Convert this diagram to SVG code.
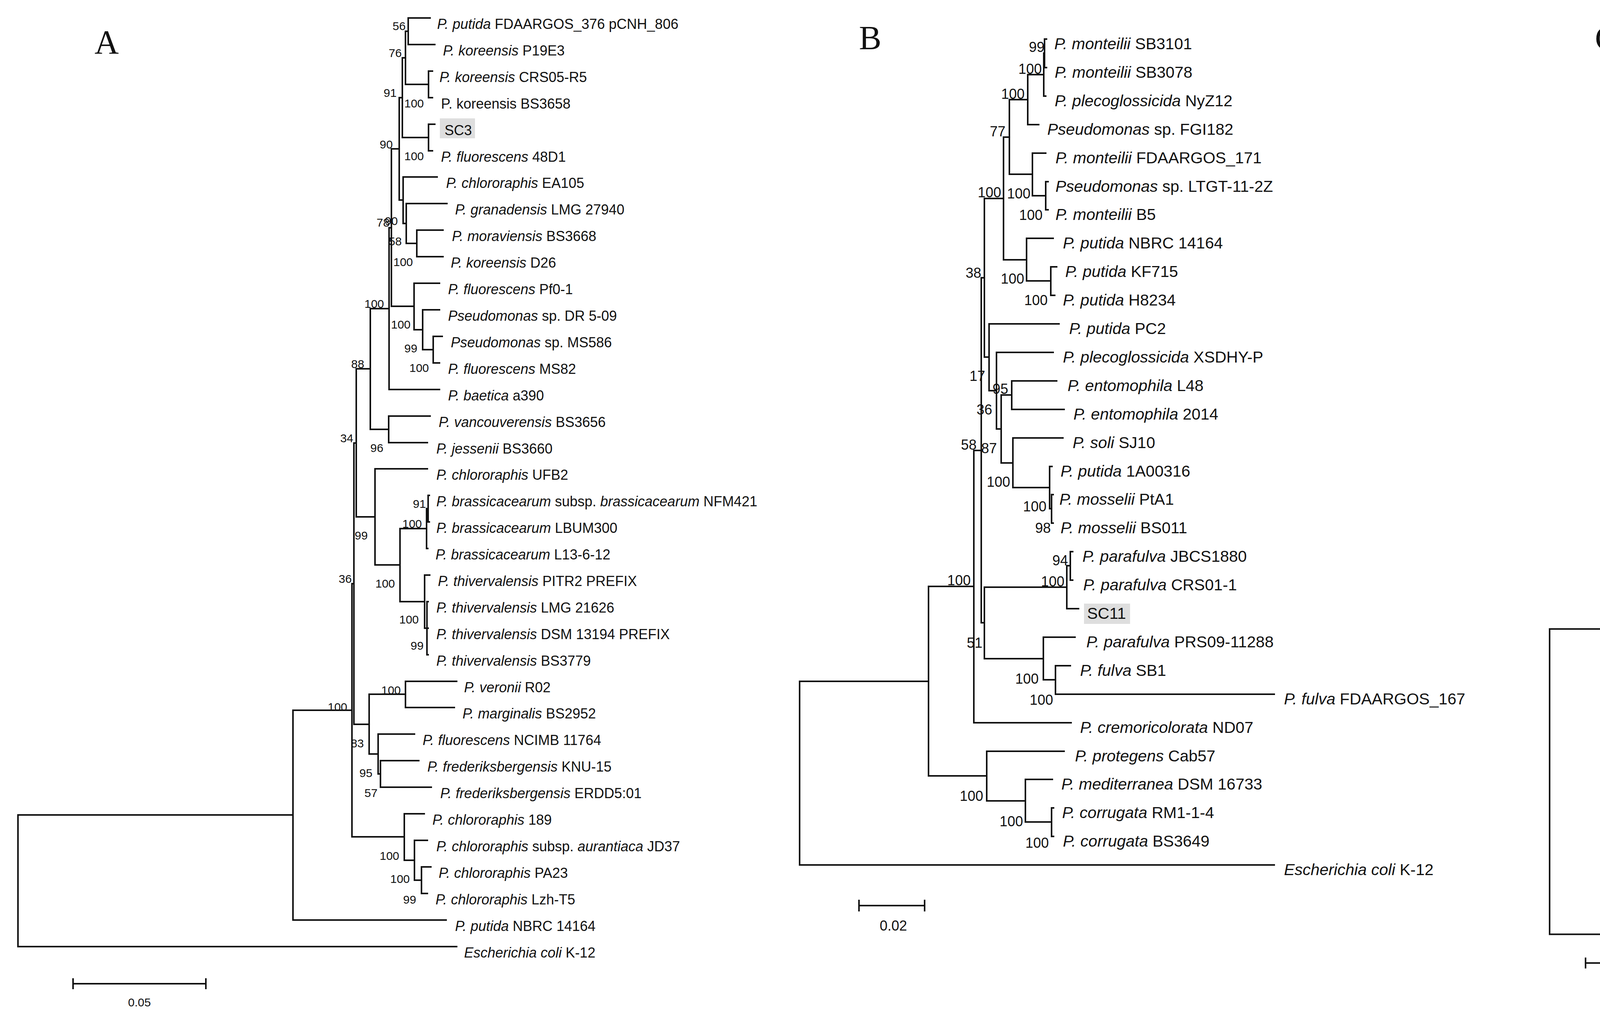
<svg xmlns="http://www.w3.org/2000/svg" width="5547" height="2616" viewBox="0 0 5547 2616">
<style>
.ln{fill:none;stroke:#111;stroke-width:4;stroke-linecap:square}
text{font-family:"Liberation Sans",Arial,sans-serif;fill:#111}
.i{font-style:italic}
.la{font-size:36px}
.lb{font-size:41px}
.lc{font-size:41px}
.ba{font-size:30px}
.bb{font-size:36px}
.bc{font-size:35px}
.pl{font-family:"Liberation Serif","Times New Roman",serif;font-size:86px}
.hl{fill:#dedede}
</style>
<rect width="5547" height="2616" fill="#fff"/>
<g id="connectors">
<path class="ln" d="M1045 46H1101M1045 114H1113M1097 182H1107M1097 250H1107M1097 318H1113M1097 386H1107M1032 453H1119M1040 521H1144M1067 589H1134M1067 657H1134M1060 725H1125M1082 793H1125M1109 861H1132M1109 929H1125M996 997H1125M995 1065H1101M995 1133H1094M960 1200H1094M1096 1268H1099M1096 1336H1099M1092 1404H1095M1087 1472H1100M1093 1540H1096M1093 1608H1096M1093 1676H1096M1038 1744H1169M1038 1811H1163M968 1879H1061M974 1947H1072M974 2015H1104M1035 2083H1086M1061 2151H1094M1079 2219H1103M1079 2287H1094M750 2355H1142M46 2423H1169
M1045 46V114M1097 182V250M1038 80V216M1038 80H1045M1038 216H1097M1097 318V386M1030 148V352M1030 148H1038M1030 352H1097M1067 589V657M1040 521V623M1040 623H1067M1032 453V572M1032 572H1040M1022 250V512M1022 250H1030M1022 512H1032M1109 861V929M1082 793V895M1082 895H1109M1060 725V844M1060 844H1082M1002 381V784M1002 381H1022M1002 784H1060M996 583V997M996 583H1002M995 1065V1133M948 790V1099M948 790H996M948 1099H995M1096 1268V1336M1092 1302V1404M1092 1302H1096M1093 1540V1676M1087 1472V1608M1087 1608H1093M1024 1353V1540M1024 1353H1092M1024 1540H1087M960 1200V1446M960 1446H1024M912 944V1323M912 944H948M912 1323H960M1038 1744V1811M974 1947V2015M968 1879V1981M968 1981H974M945 1777V1930M945 1777H1038M945 1930H968M906 1134V1854M906 1134H912M906 1854H945M1079 2219V2287M1061 2151V2253M1061 2253H1079M1035 2083V2202M1035 2202H1061M901 1494V2142M901 1494H906M901 2142H1035M750 1818V2355M750 1818H901M46 2086V2423M46 2086H750"/>
<path class="ln" d="M187 2518H527M187 2506V2530M527 2506V2530"/>
<path class="ln" d="M2674 100H2679M2674 173H2679M2672 246H2677M2631 319H2659M2643 392H2677M2677 465H2683M2677 537H2683M2628 610H2696M2690 683H2705M2690 756H2700M2532 829H2711M2551 902H2696M2590 975H2705M2590 1048H2724M2593 1121H2721M2687 1194H2693M2692 1266H2696M2692 1339H2696M2740 1412H2746M2740 1485H2746M2731 1558H2761M2671 1631H2752M2702 1704H2740M2702 1777H3262M2493 1850H2742M2526 1923H2724M2625 1995H2694M2692 2068H2697M2692 2141H2697M2047 2214H3262
M2674 100V173M2672 136V246M2672 136H2674M2631 191V319M2631 191H2672M2677 465V537M2643 392V501M2643 501H2677M2584 255V446M2584 255H2631M2584 446H2643M2690 683V756M2628 610V719M2628 719H2690M2569 351V665M2569 351H2584M2569 665H2628M2590 975V1048M2692 1266V1339M2687 1194V1302M2687 1302H2692M2593 1121V1248M2593 1248H2687M2563 1011V1185M2563 1011H2590M2563 1185H2593M2551 902V1098M2551 1098H2563M2532 829V1000M2532 1000H2551M2520 508V914M2520 508H2569M2520 914H2532M2740 1412V1485M2731 1448V1558M2731 1448H2740M2702 1704V1777M2671 1631V1740M2671 1740H2702M2520 1503V1686M2520 1503H2731M2520 1686H2671M2512 711V1594M2512 711H2520M2512 1594H2520M2493 1153V1850M2493 1153H2512M2692 2068V2141M2625 1995V2104M2625 2104H2692M2526 1923V2050M2526 2050H2625M2377 1501V1986M2377 1501H2493M2377 1986H2526M2047 1744V2214M2047 1744H2377"/>
<path class="ln" d="M2199 2318H2367M2199 2305V2331M2367 2305V2331"/>
<path class="ln" d="M4558 116V171.5M4558 116H4563M4558 171.5H4563M4561 227V282.5M4561 227H4567M4561 282.5H4572M4555 143.75V254.75M4555 143.75H4558M4555 254.75H4561M4568 393.5V449M4568 393.5H4572M4568 449H4572M4556 338V421M4556 338H4563M4556 421H4568M4551 199V379.6M4551 199H4555M4551 379.6H4556M4557 504.5V560M4557 504.5H4561M4557 560H4561M4559 615.5V671M4559 615.5H4561M4559 671H4561M4553 532V643M4553 532H4557M4553 643H4559M4542 289.4V587.7M4542 289.4H4551M4542 587.7H4553M4536 438.6V726.5M4536 438.6H4542M4536 726.5H4561M4549 837.5V948.5M4549 837.5H4561M4549 893H4559M4549 948.5H4558M4546 782V893M4546 782H4578M4546 893H4549M4532 582.5V837.5M4532 582.5H4536M4532 837.5H4546
M4553 1115V1170.5M4553 1115H4567M4553 1170.5H4567M4544 1059.5V1142.75M4544 1059.5H4575M4544 1142.75H4553M4512 1004V1101M4512 1004H4578M4512 1101H4544M4511 710V1052.6M4511 710H4532M4451 881.3V1226M4451 881.3H4511M4451 1226H4579M4581 1281.5V1337M4581 1281.5H4621M4581 1337H4610M4458 1309V1392.5M4458 1309H4581M4458 1392.5H4626M4640 1503.5V1559M4640 1503.5H4643M4640 1559H4643M4584 1670V1725.5M4584 1670H4634M4584 1725.5H4628M4570 1614.5V1697.75M4570 1614.5H4642M4570 1697.75H4584M4561 1531V1656M4561 1531H4640M4561 1656H4570M4553 1448V1593.7M4553 1448H4645M4553 1593.7H4561M4420 1350.9V1520.85M4420 1350.9H4458M4420 1520.85H4553M4367 1053.6V1435.9M4367 1053.6H4451M4367 1435.9H4420
M4499 1781V1836.5M4499 1781H4629M4499 1836.5H4659M4629 1892V1947.5M4629 1892H4631M4629 1947.5H4631M4486 1808.75V1919.75M4486 1808.75H4499M4486 1919.75H4629M4660 2058.5V2114M4660 2058.5H4722M4660 2114H4722M4649 2169.5V2225M4649 2169.5H4753M4649 2225H4767M4640 2280.5V2336M4640 2280.5H4732M4640 2336H4738M4624 2197.25V2308.25M4624 2197.25H4649M4624 2308.25H4640M4613 2086.25V2252.75M4613 2086.25H4660M4613 2252.75H4624M4429 2003V2169.5M4429 2003H4897M4429 2169.5H4613M4351 1864.25V2086.25M4351 1864.25H4486M4351 2086.25H4429M4313 1244.75V1975.25M4313 1244.75H4367M4313 1975.25H4351M3967 1610V2391.5M3967 1610H4313M3967 2391.5H4897"/>
<path class="ln" d="M4059 2465H4236M4059 2453V2477M4236 2453V2477"/>
</g>
<g id="panel-letters">
<text class="pl" x="242" y="137">A</text>
<text class="pl" x="2199" y="126">B</text>
<text class="pl" x="4083" y="127">C</text>
</g>
<g id="scale-bars">
<text class="ba" x="357" y="2576" text-anchor="middle">0.05</text>
<text class="bb" x="2287" y="2382" text-anchor="middle">0.02</text>
<text class="bc" x="4164" y="2528" text-anchor="middle" style="font-size:38px">0.05</text>
</g>
<g id="highlights">
<rect class="hl" x="1126" y="303" width="90" height="51"/>
<rect class="hl" x="2775" y="1545" width="118" height="52"/>
<rect class="hl" x="4580" y="750" width="96" height="49"/>
</g>
<g id="A-leaves">
<g id="A1"><text class="la" x="1119" y="74"><tspan class="i">P. putida</tspan> FDAARGOS_376 pCNH_806</text></g>
<g id="A2"><text class="la" x="1134" y="142"><tspan class="i">P. koreensis</tspan> P19E3</text></g>
<g id="A3"><text class="la" x="1125" y="210"><tspan class="i">P. koreensis</tspan> CRS05-R5</text></g>
<g id="A4"><text class="la" x="1129" y="278">P. koreensis BS3658</text></g>
<g id="A5"><text class="la" x="1138" y="346">SC3</text></g>
<g id="A6"><text class="la" x="1129" y="414"><tspan class="i">P. fluorescens</tspan> 48D1</text></g>
<g id="A7"><text class="la" x="1142" y="481"><tspan class="i">P. chlororaphis</tspan> EA105</text></g>
<g id="A8"><text class="la" x="1165" y="549"><tspan class="i">P. granadensis</tspan> LMG 27940</text></g>
<g id="A9"><text class="la" x="1157" y="617"><tspan class="i">P. moraviensis</tspan> BS3668</text></g>
<g id="A10"><text class="la" x="1154" y="685"><tspan class="i">P. koreensis</tspan> D26</text></g>
<g id="A11"><text class="la" x="1147" y="753"><tspan class="i">P. fluorescens</tspan> Pf0-1</text></g>
<g id="A12"><text class="la" x="1147" y="821"><tspan class="i">Pseudomonas</tspan> sp. DR 5-09</text></g>
<g id="A13"><text class="la" x="1154" y="889"><tspan class="i">Pseudomonas</tspan> sp. MS586</text></g>
<g id="A14"><text class="la" x="1147" y="957"><tspan class="i">P. fluorescens</tspan> MS82</text></g>
<g id="A15"><text class="la" x="1147" y="1025"><tspan class="i">P. baetica</tspan> a390</text></g>
<g id="A16"><text class="la" x="1123" y="1093"><tspan class="i">P. vancouverensis</tspan> BS3656</text></g>
<g id="A17"><text class="la" x="1117" y="1161"><tspan class="i">P. jessenii</tspan> BS3660</text></g>
<g id="A18"><text class="la" x="1117" y="1228"><tspan class="i">P. chlororaphis</tspan> UFB2</text></g>
<g id="A19"><text class="la" x="1117" y="1296"><tspan class="i">P. brassicacearum</tspan> subsp. <tspan class="i">brassicacearum</tspan> NFM421</text></g>
<g id="A20"><text class="la" x="1117" y="1364"><tspan class="i">P. brassicacearum</tspan> LBUM300</text></g>
<g id="A21"><text class="la" x="1115" y="1432"><tspan class="i">P. brassicacearum</tspan> L13-6-12</text></g>
<g id="A22"><text class="la" x="1121" y="1500"><tspan class="i">P. thivervalensis</tspan> PITR2 PREFIX</text></g>
<g id="A23"><text class="la" x="1117" y="1568"><tspan class="i">P. thivervalensis</tspan> LMG 21626</text></g>
<g id="A24"><text class="la" x="1117" y="1636"><tspan class="i">P. thivervalensis</tspan> DSM 13194 PREFIX</text></g>
<g id="A25"><text class="la" x="1117" y="1704"><tspan class="i">P. thivervalensis</tspan> BS3779</text></g>
<g id="A26"><text class="la" x="1188" y="1772"><tspan class="i">P. veronii</tspan> R02</text></g>
<g id="A27"><text class="la" x="1184" y="1839"><tspan class="i">P. marginalis</tspan> BS2952</text></g>
<g id="A28"><text class="la" x="1082" y="1907"><tspan class="i">P. fluorescens</tspan> NCIMB 11764</text></g>
<g id="A29"><text class="la" x="1094" y="1975"><tspan class="i">P. frederiksbergensis</tspan> KNU-15</text></g>
<g id="A30"><text class="la" x="1127" y="2043"><tspan class="i">P. frederiksbergensis</tspan> ERDD5:01</text></g>
<g id="A31"><text class="la" x="1107" y="2111"><tspan class="i">P. chlororaphis</tspan> 189</text></g>
<g id="A32"><text class="la" x="1117" y="2179"><tspan class="i">P. chlororaphis</tspan> subsp. <tspan class="i">aurantiaca</tspan> JD37</text></g>
<g id="A33"><text class="la" x="1123" y="2247"><tspan class="i">P. chlororaphis</tspan> PA23</text></g>
<g id="A34"><text class="la" x="1115" y="2315"><tspan class="i">P. chlororaphis</tspan> Lzh-T5</text></g>
<g id="A35"><text class="la" x="1165" y="2383"><tspan class="i">P. putida</tspan> NBRC 14164</text></g>
<g id="A36"><text class="la" x="1188" y="2451"><tspan class="i">Escherichia coli</tspan> K-12</text></g>
</g>
<g id="A-support">
<text class="ba" x="1005" y="77">56</text><text class="ba" x="995" y="146">76</text><text class="ba" x="1035" y="275">100</text><text class="ba" x="982" y="248">91</text><text class="ba" x="972" y="380">90</text><text class="ba" x="1035" y="410">100</text><text class="ba" x="964" y="580">78</text><text class="ba" x="985" y="576">90</text><text class="ba" x="995" y="628">58</text><text class="ba" x="1007" y="681">100</text><text class="ba" x="933" y="788">100</text><text class="ba" x="1001" y="841">100</text><text class="ba" x="1035" y="902">99</text><text class="ba" x="899" y="942">88</text><text class="ba" x="1048" y="952">100</text><text class="ba" x="871" y="1132">34</text><text class="ba" x="948" y="1157">96</text><text class="ba" x="1057" y="1300">91</text><text class="ba" x="1030" y="1351">100</text><text class="ba" x="908" y="1381">99</text><text class="ba" x="867" y="1492">36</text><text class="ba" x="961" y="1504">100</text><text class="ba" x="1022" y="1596">100</text><text class="ba" x="1051" y="1663">99</text><text class="ba" x="976" y="1777">100</text><text class="ba" x="839" y="1820">100</text><text class="ba" x="898" y="1913">83</text><text class="ba" x="920" y="1989">95</text><text class="ba" x="933" y="2040">57</text><text class="ba" x="972" y="2201">100</text><text class="ba" x="999" y="2260">100</text><text class="ba" x="1032" y="2313">99</text>
</g>
<g id="B-leaves">
<g id="B1"><text class="lb" x="2699" y="126"><tspan class="i">P. monteilii</tspan> SB3101</text></g>
<g id="B2"><text class="lb" x="2700" y="199"><tspan class="i">P. monteilii</tspan> SB3078</text></g>
<g id="B3"><text class="lb" x="2700" y="272"><tspan class="i">P. plecoglossicida</tspan> NyZ12</text></g>
<g id="B4"><text class="lb" x="2681" y="345"><tspan class="i">Pseudomonas</tspan> sp. FGI182</text></g>
<g id="B5"><text class="lb" x="2702" y="418"><tspan class="i">P. monteilii</tspan> FDAARGOS_171</text></g>
<g id="B6"><text class="lb" x="2702" y="491"><tspan class="i">Pseudomonas</tspan> sp. LTGT-11-2Z</text></g>
<g id="B7"><text class="lb" x="2702" y="563"><tspan class="i">P. monteilii</tspan> B5</text></g>
<g id="B8"><text class="lb" x="2721" y="636"><tspan class="i">P. putida</tspan> NBRC 14164</text></g>
<g id="B9"><text class="lb" x="2727" y="709"><tspan class="i">P. putida</tspan> KF715</text></g>
<g id="B10"><text class="lb" x="2721" y="782"><tspan class="i">P. putida</tspan> H8234</text></g>
<g id="B11"><text class="lb" x="2737" y="855"><tspan class="i">P. putida</tspan> PC2</text></g>
<g id="B12"><text class="lb" x="2721" y="928"><tspan class="i">P. plecoglossicida</tspan> XSDHY-P</text></g>
<g id="B13"><text class="lb" x="2733" y="1001"><tspan class="i">P. entomophila</tspan> L48</text></g>
<g id="B14"><text class="lb" x="2748" y="1074"><tspan class="i">P. entomophila</tspan> 2014</text></g>
<g id="B15"><text class="lb" x="2746" y="1147"><tspan class="i">P. soli</tspan> SJ10</text></g>
<g id="B16"><text class="lb" x="2715" y="1220"><tspan class="i">P. putida</tspan> 1A00316</text></g>
<g id="B17"><text class="lb" x="2712" y="1292"><tspan class="i">P. mosselii</tspan> PtA1</text></g>
<g id="B18"><text class="lb" x="2715" y="1365"><tspan class="i">P. mosselii</tspan> BS011</text></g>
<g id="B19"><text class="lb" x="2771" y="1438"><tspan class="i">P. parafulva</tspan> JBCS1880</text></g>
<g id="B20"><text class="lb" x="2773" y="1511"><tspan class="i">P. parafulva</tspan> CRS01-1</text></g>
<g id="B21"><text class="lb" x="2783" y="1584">SC11</text></g>
<g id="B22"><text class="lb" x="2781" y="1657"><tspan class="i">P. parafulva</tspan> PRS09-11288</text></g>
<g id="B23"><text class="lb" x="2765" y="1730"><tspan class="i">P. fulva</tspan> SB1</text></g>
<g id="B24"><text class="lb" x="3287" y="1803"><tspan class="i">P. fulva</tspan> FDAARGOS_167</text></g>
<g id="B25"><text class="lb" x="2765" y="1876"><tspan class="i">P. cremoricolorata</tspan> ND07</text></g>
<g id="B26"><text class="lb" x="2752" y="1949"><tspan class="i">P. protegens</tspan> Cab57</text></g>
<g id="B27"><text class="lb" x="2717" y="2021"><tspan class="i">P. mediterranea</tspan> DSM 16733</text></g>
<g id="B28"><text class="lb" x="2719" y="2094"><tspan class="i">P. corrugata</tspan> RM1-1-4</text></g>
<g id="B29"><text class="lb" x="2721" y="2167"><tspan class="i">P. corrugata</tspan> BS3649</text></g>
<g id="B30"><text class="lb" x="3287" y="2240"><tspan class="i">Escherichia coli</tspan> K-12</text></g>
</g>
<g id="B-support">
<text class="bb" x="2634" y="133">99</text><text class="bb" x="2607" y="189">100</text><text class="bb" x="2563" y="253">100</text><text class="bb" x="2534" y="349">77</text><text class="bb" x="2503" y="505">100</text><text class="bb" x="2578" y="508">100</text><text class="bb" x="2609" y="563">100</text><text class="bb" x="2472" y="711">38</text><text class="bb" x="2562" y="726">100</text><text class="bb" x="2622" y="781">100</text><text class="bb" x="2482" y="975">17</text><text class="bb" x="2541" y="1008">95</text><text class="bb" x="2500" y="1061">36</text><text class="bb" x="2460" y="1151">58</text><text class="bb" x="2512" y="1160">87</text><text class="bb" x="2526" y="1246">100</text><text class="bb" x="2619" y="1309">100</text><text class="bb" x="2650" y="1364">98</text><text class="bb" x="2694" y="1447">94</text><text class="bb" x="2425" y="1498">100</text><text class="bb" x="2665" y="1501">100</text><text class="bb" x="2475" y="1658">51</text><text class="bb" x="2599" y="1750">100</text><text class="bb" x="2636" y="1804">100</text><text class="bb" x="2457" y="2050">100</text><text class="bb" x="2559" y="2115">100</text><text class="bb" x="2625" y="2170">100</text>
</g>
<g id="C-leaves">
<g id="C1"><text class="lc" x="4566" y="129"><tspan class="i">B. velezensis</tspan> FS001</text></g>
<g id="C2"><text class="lc" x="4566" y="184.5"><tspan class="i">B. velezensis</tspan> B5</text></g>
<g id="C3"><text class="lc" x="4570" y="240"><tspan class="i">B. amyloliquefaciens</tspan> subsp. <tspan class="i">plantarum</tspan> UCMB5113</text></g>
<g id="C4"><text class="lc" x="4575" y="295.5"><tspan class="i">B. amyloliquefaciens</tspan> subsp. <tspan class="i">plantarum</tspan> UCMB5033</text></g>
<g id="C5"><text class="lc" x="4566" y="351"><tspan class="i">B. velezensis</tspan> CGMCC 11640</text></g>
<g id="C6"><text class="lc" x="4575" y="406.5"><tspan class="i">B. amyloliquefaciens</tspan> subsp. <tspan class="i">plantarum</tspan> FZB42</text></g>
<g id="C7"><text class="lc" x="4575" y="462"><tspan class="i">B. amyloliquefaciens</tspan> CC178</text></g>
<g id="C8"><text class="lc" x="4564" y="517.5"><tspan class="i">B. velezensis</tspan> SQR9</text></g>
<g id="C9"><text class="lc" x="4564" y="573"><tspan class="i">B. velezensis</tspan> GYL4</text></g>
<g id="C10"><text class="lc" x="4564" y="628.5"><tspan class="i">B. velezensis</tspan> KACC 13105</text></g>
<g id="C11"><text class="lc" x="4564" y="684"><tspan class="i">B. methylotrophicus</tspan> CBMB205</text></g>
<g id="C12"><text class="lc" x="4564" y="739.5"><tspan class="i">B. velezensis</tspan> NRRL B-41580</text></g>
<g id="C13"><text class="lc" x="4584" y="795">3-10</text></g>
<g id="C14"><text class="lc" x="4564" y="850.5"><tspan class="i">B. velezensis</tspan> PG12</text></g>
<g id="C15"><text class="lc" x="4562" y="906"><tspan class="i">B. amyloliquefaciens</tspan> L-S60</text></g>
<g id="C16"><text class="lc" x="4561" y="961.5"><tspan class="i">B. amyloliquefaciens</tspan> L-H15</text></g>
<g id="C17"><text class="lc" x="4581" y="1017"><tspan class="i">B. amyloliquefaciens</tspan> DSM7</text></g>
<g id="C18"><text class="lc" x="4578" y="1072.5"><tspan class="i">B. siamensis</tspan> SCSIO 05746</text></g>
<g id="C19"><text class="lc" x="4570" y="1128"><tspan class="i">B. siamensis</tspan> XY18</text></g>
<g id="C20"><text class="lc" x="4570" y="1183.5"><tspan class="i">B. siamensis</tspan> KCTC 13613</text></g>
<g id="C21"><text class="lc" x="4582" y="1239"><tspan class="i">B. nakamurai</tspan> NRRL B-41091</text></g>
<g id="C22"><text class="lc" x="4624" y="1294.5"><tspan class="i">B. mojavensis</tspan> RO-H-1</text></g>
<g id="C23"><text class="lc" x="4613" y="1350"><tspan class="i">B. halotolerans</tspan> DSM 8802</text></g>
<g id="C24"><text class="lc" x="4629" y="1405.5"><tspan class="i">B. atrophaeus</tspan> ATCC 49822-2</text></g>
<g id="C25"><text class="lc" x="4648" y="1461"><tspan class="i">B. vallismortis</tspan> TD3</text></g>
<g id="C26"><text class="lc" x="4643" y="1516.5"><tspan class="i">B. subtilis</tspan> subsp. <tspan class="i">subtilis</tspan> NCIB 3610</text></g>
<g id="C27"><text class="lc" x="4643" y="1572"><tspan class="i">B. subtilis</tspan> subsp. <tspan class="i">subtilis</tspan> 168</text></g>
<g id="C28"><text class="lc" x="4645" y="1627.5"><tspan class="i">B. tequilensis</tspan> KCTC 13622</text></g>
<g id="C29"><text class="lc" x="4637" y="1683"><tspan class="i">B. subtilis</tspan> subsp. <tspan class="i">inaquosorum</tspan> KCTC 13429</text></g>
<g id="C30"><text class="lc" x="4631" y="1738.5"><tspan class="i">B. licheniformis</tspan> 127185-2</text></g>
<g id="C31"><text class="lc" x="4632" y="1794"><tspan class="i">B. sonorensis</tspan> NBRC 101234</text></g>
<g id="C32"><text class="lc" x="4662" y="1849.5"><tspan class="i">B. glycinifermentans</tspan> GO-13</text></g>
<g id="C33"><text class="lc" x="4631" y="1905"><tspan class="i">B. paralicheniformis</tspan> KJ-16</text></g>
<g id="C34"><text class="lc" x="4631" y="1960.5"><tspan class="i">B. paralicheniformis</tspan> ATCC 12759 DJ88</text></g>
<g id="C35"><text class="lc" x="4900" y="2016"><tspan class="i">B. cereus</tspan> ATCC 14579</text></g>
<g id="C36"><text class="lc" x="4725" y="2071.5"><tspan class="i">B. safensis</tspan> FO-36b</text></g>
<g id="C37"><text class="lc" x="4725" y="2127"><tspan class="i">B. australimaris</tspan> NH7I 1</text></g>
<g id="C38"><text class="lc" x="4756" y="2182.5"><tspan class="i">B. zhangzhouensis</tspan> DW5-4</text></g>
<g id="C39"><text class="lc" x="4770" y="2238"><tspan class="i">B. pumilus</tspan> ATCC 7061</text></g>
<g id="C40"><text class="lc" x="4735" y="2293.5"><tspan class="i">B. xiamenensis</tspan> HYC-10</text></g>
<g id="C41"><text class="lc" x="4741" y="2349"><tspan class="i">B. altitudinis</tspan> 41KF2b</text></g>
<g id="C42"><text class="lc" x="4900" y="2424"><tspan class="i">Streptomyces collinus</tspan> Tu 365</text></g>
</g>
<g id="C-support">
<text class="bc" x="4518" y="138">82</text><text class="bc" x="4518" y="188">81</text><text class="bc" x="4518" y="281">79</text><text class="bc" x="4508" y="364">80</text><text class="bc" x="4537" y="410">77</text><text class="bc" x="4492" y="436">78</text><text class="bc" x="4521" y="511">71</text><text class="bc" x="4510" y="542">75</text><text class="bc" x="4494" y="591">73</text><text class="bc" x="4530" y="620">76</text><text class="bc" x="4526" y="672">74</text><text class="bc" x="4478" y="712">72</text><text class="bc" x="4516" y="844">70</text><text class="bc" x="4467" y="872">67</text><text class="bc" x="4512" y="905">69</text><text class="bc" x="4512" y="962">68</text><text class="bc" x="4397" y="1042">63</text><text class="bc" x="4476" y="1074">66</text><text class="bc" x="4508" y="1128">65</text><text class="bc" x="4516" y="1174">64</text><text class="bc" x="4315" y="1228">62</text><text class="bc" x="4532" y="1301">52</text><text class="bc" x="4411" y="1335">58</text><text class="bc" x="4372" y="1424">60</text><text class="bc" x="4497" y="1512">56</text><text class="bc" x="4591" y="1526">49</text><text class="bc" x="4518" y="1621">55</text><text class="bc" x="4523" y="1679">54</text><text class="bc" x="4537" y="1728">53</text><text class="bc" x="4254" y="1592">61</text><text class="bc" x="4449" y="1810">50</text><text class="bc" x="4445" y="1896">51</text><text class="bc" x="4575" y="1945">43</text><text class="bc" x="4299" y="2011">59</text><text class="bc" x="4611" y="2081">44</text><text class="bc" x="4377" y="2126">57</text><text class="bc" x="4613" y="2191">45</text><text class="bc" x="4561" y="2202">48</text><text class="bc" x="4583" y="2284">47</text><text class="bc" x="4597" y="2340">46</text>
</g>
</svg>
